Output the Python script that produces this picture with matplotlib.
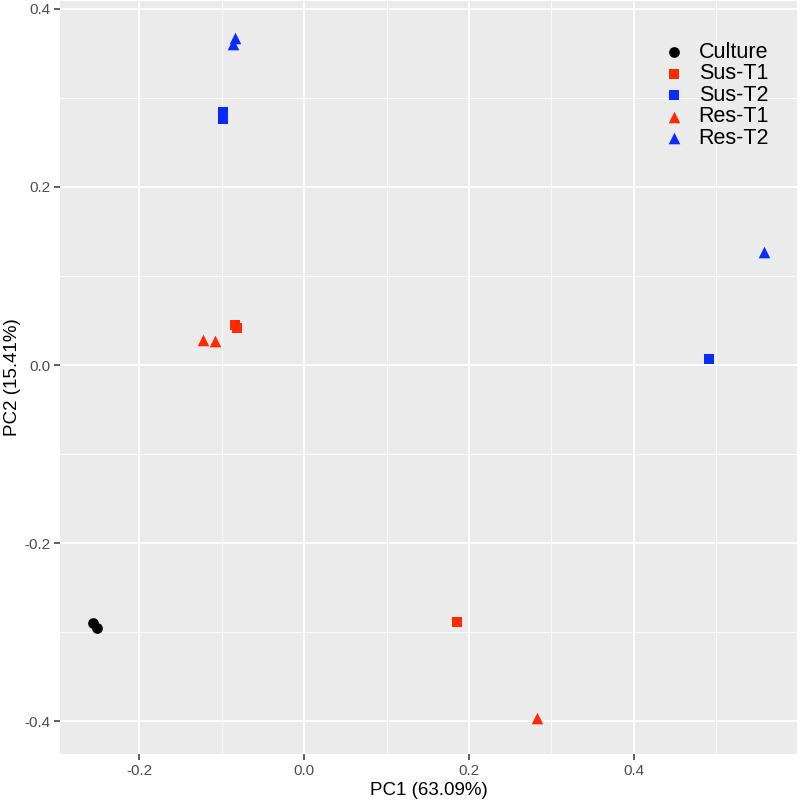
import matplotlib
matplotlib.use("Agg")
import matplotlib.pyplot as plt
from matplotlib.ticker import MultipleLocator

plt.rcParams['font.family'] = ['Liberation Sans', 'DejaVu Sans']

# PCA scores
groups = ["Culture", "Sus-T1", "Sus-T2", "Res-T1", "Res-T2"]
pc1 = {
    "Culture": [-0.256, -0.251],
    "Sus-T1": [0.185, -0.084, -0.081],
    "Sus-T2": [0.491, -0.098, -0.098],
    "Res-T1": [0.282, -0.122, -0.108],
    "Res-T2": [0.558, -0.084, -0.086],
}
pc2 = {
    "Culture": [-0.290, -0.295],
    "Sus-T1": [-0.289, 0.045, 0.042],
    "Sus-T2": [0.007, 0.284, 0.276],
    "Res-T1": [-0.397, 0.028, 0.027],
    "Res-T2": [0.127, 0.367, 0.361],
}
colors = {"Culture": "black", "Sus-T1": "#FF2A00", "Sus-T2": "#0A2BFF",
          "Res-T1": "#FF2A00", "Res-T2": "#0A2BFF"}
shapes = {"Culture": "o", "Sus-T1": "s", "Sus-T2": "s", "Res-T1": "^", "Res-T2": "^"}
sizes = {"o": 60, "s": 50, "^": 70}

fig = plt.figure(figsize=(8, 8.02), dpi=100)
ax = fig.add_axes([0.075, 0.0599, 0.92125, 0.9389])
ax.set_facecolor("#EBEBEB")

for g in groups:
    m = shapes[g]
    ax.scatter(pc1[g], pc2[g], c=colors[g], marker=m, s=sizes[m],
               linewidths=0, label=g, zorder=3)

ax.set_xlim(-0.2958, 0.5976)
ax.set_ylim(-0.437, 0.409)
ax.xaxis.set_major_locator(MultipleLocator(0.2))
ax.yaxis.set_major_locator(MultipleLocator(0.2))
ax.xaxis.set_minor_locator(MultipleLocator(0.1))
ax.yaxis.set_minor_locator(MultipleLocator(0.1))
ax.xaxis.set_major_formatter(lambda v, p: f"{v:.1f}")
ax.yaxis.set_major_formatter(lambda v, p: f"{v:.1f}")
ax.grid(which="major", color="white", linewidth=1.3, zorder=0)
ax.grid(which="minor", color="white", linewidth=0.6, zorder=0)
ax.set_axisbelow(True)
for s in ax.spines.values():
    s.set_visible(False)
ax.tick_params(which="major", length=4, width=1.1, color="#333333",
               labelcolor="#4D4D4D", labelsize=11, pad=3)
ax.tick_params(which="minor", length=0)

ax.set_xlabel("PC1 (63.09%)", fontsize=13.5, labelpad=3)
ax.set_ylabel("PC2 (15.41%)", fontsize=13.5, labelpad=2)

leg = ax.legend(loc="upper right", bbox_to_anchor=(0.974, 0.957), frameon=False,
                fontsize=15.5, handletextpad=0.15, labelspacing=0.02,
                markerscale=1.0, borderaxespad=0)

fig.savefig("out.png", dpi=100)
